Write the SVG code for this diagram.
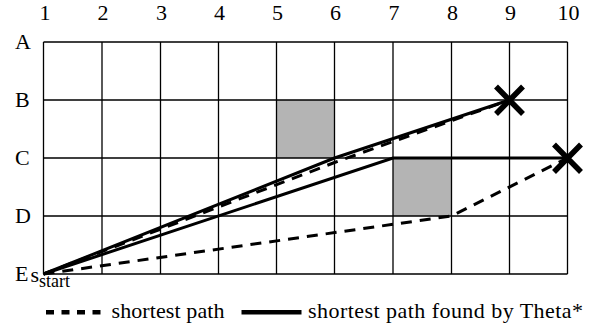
<svg xmlns="http://www.w3.org/2000/svg" width="594" height="326" viewBox="0 0 594 326">
<style>
text{font-size:22px;fill:#000}
.grid{stroke:#000;stroke-width:1.3;fill:none}
.cell{fill:#b4b4b4}
.solid{stroke:#000;stroke-width:3;fill:none;stroke-linejoin:miter}
.dash{stroke:#000;stroke-width:3;fill:none;stroke-dasharray:11 8}
.x{stroke:#000;stroke-width:5.5;stroke-linecap:butt}
.col{text-anchor:middle}
</style>
<rect width="594" height="326" fill="#fff"/>
<g id="blocked">
<rect class="cell" x="276.5" y="100" width="58" height="58"/>
<rect class="cell" x="393" y="158" width="58.5" height="58"/>
</g>
<g id="grid" class="grid">
<path d="M43.5,42H567.5M43.5,100H567.5M43.5,158H567.5M43.5,216H567.5M43.5,274H567.5"/>
<path d="M43.5,42V274M102,42V274M160.5,42V274M218.5,42V274M276.5,42V274M334.5,42V274M393,42V274M451.5,42V274M509.5,42V274M567.5,42V274"/>
</g>
<g id="labels" font-family="Liberation Serif, Tinos, Times New Roman, DejaVu Serif, serif">
<text class="col" x="45" y="20">1</text>
<text class="col" x="103" y="20">2</text>
<text class="col" x="161.5" y="20">3</text>
<text class="col" x="219.5" y="20">4</text>
<text class="col" x="277.5" y="20">5</text>
<text class="col" x="335.5" y="20">6</text>
<text class="col" x="394" y="20">7</text>
<text class="col" x="452.5" y="20">8</text>
<text class="col" x="510.5" y="20">9</text>
<text class="col" x="568.5" y="20">10</text>
<text x="15" y="48.5">A</text>
<text x="15" y="106.5">B</text>
<text x="15" y="164.5">C</text>
<text x="15" y="222.5">D</text>
<text x="15" y="280.5">E</text>
<text x="30.5" y="281.5">s<tspan font-size="18" dy="5.5">start</tspan></text>
</g>
<g id="connectors">
<path class="solid" d="M43.5,274L334.5,158L509.5,100"/>
<path class="dash" d="M43.5,274L334.5,162.5L509.5,100"/>
<path class="solid" d="M43.5,274L393,158L567.5,158"/>
<path class="dash" d="M43.5,274L451.5,216L567.5,158"/>
</g>
<g id="goal-B9">
<path class="x" d="M496,86.5L523,114M523,86.5L496,114"/>
</g>
<g id="goal-C10">
<path class="x" d="M554,144.5L581,172M581,144.5L554,172"/>
</g>
<g id="legend" font-family="Liberation Serif, Tinos, Times New Roman, DejaVu Serif, serif">
<path d="M46,312.3H106" stroke="#000" stroke-width="4.5" stroke-dasharray="8 7.5"/>
<text x="111.5" y="317.5" textLength="113">shortest path</text>
<path d="M241.5,312.3H301.5" stroke="#000" stroke-width="4.5"/>
<text x="308" y="317.5" textLength="275">shortest path found by Theta*</text>
</g>
</svg>
